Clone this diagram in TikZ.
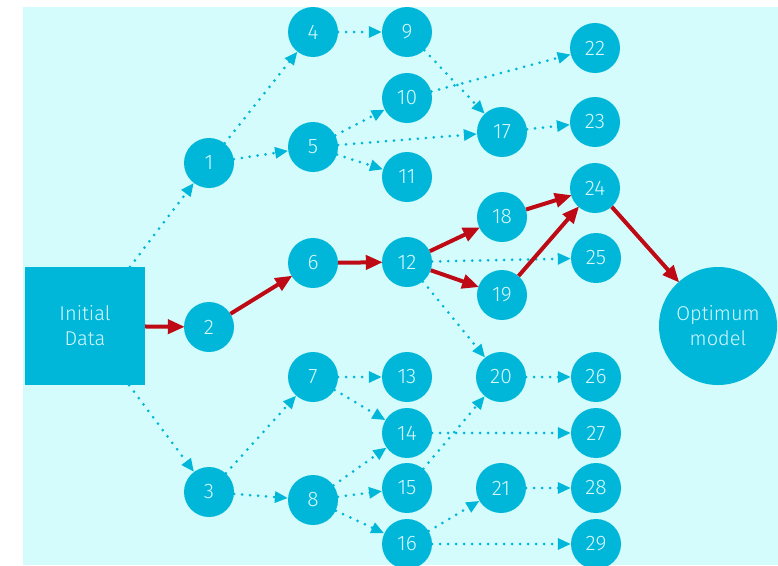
\documentclass[tikz,border=0pt]{standalone}
\usepackage{fontspec}
\setmainfont{Fira Sans}[UprightFont=* Light]
\usetikzlibrary{arrows.meta}
\definecolor{bgcyan}{RGB}{213,252,252}
\definecolor{nodecyan}{RGB}{0,183,217}
\definecolor{textcyan}{RGB}{215,248,255}
\definecolor{pathred}{RGB}{190,10,20}
\tikzset{
  stage/.style={circle, fill=nodecyan, minimum size=50pt, inner sep=0pt,
    text=textcyan, font=\fontsize{21}{22}\selectfont},
  databox/.style={rectangle, fill=nodecyan, minimum width=120pt, minimum height=118pt,
    inner sep=0pt, text=textcyan, align=center, font=\fontsize{20}{25}\selectfont},
  goal/.style={circle, fill=nodecyan, minimum size=118pt, inner sep=0pt,
    text=textcyan, align=center, font=\fontsize{20}{25}\selectfont},
  trial/.style={draw=nodecyan, line width=3pt, line cap=round,
    dash pattern=on 0pt off 8pt,
    -{Triangle[length=13pt,width=11pt,fill=nodecyan]}},
  best/.style={draw=pathred, line width=4pt,
    -{Triangle[length=17pt,width=14pt,fill=pathred]}, shorten >=-1pt}
}
\begin{document}
\begin{tikzpicture}[x=1pt,y=-1pt]
  \useasboundingbox (0,0) rectangle (778,565);
  \fill[white] (0,0) rectangle (778,565);
  \fill[bgcyan] (23,7) rectangle (778,565);

  % input and result
  \node[databox] (init) at (85,326) {Initial\\Data};
  \node[goal] (opt) at (718,326) {Optimum\\model};

  % first layer
  \node[stage] (n1) at (209,163) {1};
  \node[stage] (n2) at (209,327) {2};
  \node[stage] (n3) at (209,492) {3};
  % second layer
  \node[stage] (n4) at (313,32) {4};
  \node[stage] (n5) at (313,147) {5};
  \node[stage] (n6) at (313,263) {6};
  \node[stage] (n7) at (313,377) {7};
  \node[stage] (n8) at (313,500) {8};
  % third layer
  \node[stage] (n9) at (407,32) {9};
  \node[stage] (n10) at (407,98) {10};
  \node[stage] (n11) at (407,177) {11};
  \node[stage] (n12) at (407,262) {12};
  \node[stage] (n13) at (407,377) {13};
  \node[stage] (n14) at (407,433) {14};
  \node[stage] (n15) at (407,488) {15};
  \node[stage] (n16) at (407,544) {16};
  % fourth layer
  \node[stage] (n17) at (502,132) {17};
  \node[stage] (n18) at (502,217) {18};
  \node[stage] (n19) at (502,295) {19};
  \node[stage] (n20) at (501,377) {20};
  \node[stage] (n21) at (501,488) {21};
  % fifth layer
  \node[stage] (n22) at (595,48) {22};
  \node[stage] (n23) at (595,122) {23};
  \node[stage] (n24) at (595,188) {24};
  \node[stage] (n25) at (596,258) {25};
  \node[stage] (n26) at (596,377) {26};
  \node[stage] (n27) at (596,433) {27};
  \node[stage] (n28) at (596,488) {28};
  \node[stage] (n29) at (596,544) {29};

  % explored branches
  \draw[trial] (init) -- (n1);
  \draw[trial] (init) -- (n3);
  \draw[trial] (n1) -- (n4);
  \draw[trial] (n1) -- (n5);
  \draw[trial] (n3) -- (n7);
  \draw[trial] (n3) -- (n8);
  \draw[trial] (n4) -- (n9);
  \draw[trial] (n5) -- (n10);
  \draw[trial] (n5) -- (n17);
  \draw[trial] (n5) -- (n11);
  \draw[trial] (n9) -- (n17);
  \draw[trial] (n10) -- (n22);
  \draw[trial] (n17) -- (n23);
  \draw[trial] (n12) -- (n25);
  \draw[trial] (n12) -- (n20);
  \draw[trial] (n7) -- (n13);
  \draw[trial] (n7) -- (n14);
  \draw[trial] (n8) -- (n14);
  \draw[trial] (n8) -- (n15);
  \draw[trial] (n8) -- (n16);
  \draw[trial] (n14) -- (n27);
  \draw[trial] (n15) -- (n20);
  \draw[trial] (n16) -- (n21);
  \draw[trial] (n16) -- (n29);
  \draw[trial] (n20) -- (n26);
  \draw[trial] (n21) -- (n28);

  % selected path
  \draw[best] (init) -- (n2);
  \draw[best] (n2) -- (n6);
  \draw[best] (n6) -- (n12);
  \draw[best] (n12) -- (n18);
  \draw[best] (n12) -- (n19);
  \draw[best] (n18) -- (n24);
  \draw[best] (n19) -- (n24);
  \draw[best] (n24) -- (opt);
\end{tikzpicture}
\end{document}
